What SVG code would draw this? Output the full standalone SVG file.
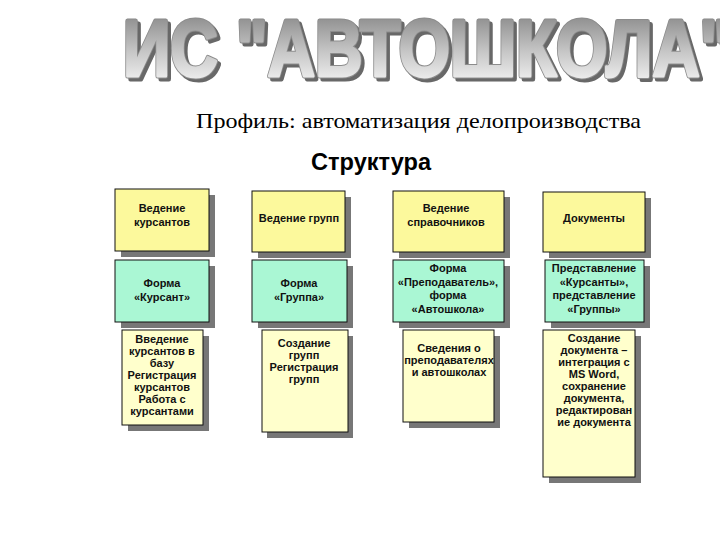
<svg xmlns="http://www.w3.org/2000/svg" width="720" height="540" viewBox="0 0 720 540">
<defs>
<linearGradient id="tg" x1="0" y1="0" x2="0" y2="1">
<stop offset="0" stop-color="#7c7c7c"/>
<stop offset="0.55" stop-color="#c8c8c8"/>
<stop offset="1" stop-color="#ffffff"/>
</linearGradient>
<style>
.sh{fill:#777777}
.y{fill:#FCF99C;stroke:#111;stroke-width:1}
.g{fill:#AAF7D4;stroke:#111;stroke-width:1}
.p{fill:#FFFFCC;stroke:#111;stroke-width:1}
.t{font-family:"Liberation Sans",Arial,sans-serif;font-weight:bold;font-size:11px;fill:#111;text-anchor:middle}
.title{font-family:"Liberation Sans",Arial,sans-serif;font-weight:bold;font-size:80px}
</style>
</defs>
<rect width="720" height="540" fill="#ffffff"/>
<g id="title">
<text class="title" x="126" y="79" fill="#686868" stroke="#686868" stroke-width="5" stroke-linejoin="round" textLength="608" lengthAdjust="spacingAndGlyphs">ИС "АВТОШКОЛА"</text>
<text class="title" x="123" y="76" fill="url(#tg)" stroke="#8c8c8c" stroke-width="5" stroke-linejoin="round" textLength="608" lengthAdjust="spacingAndGlyphs">ИС "АВТОШКОЛА"</text>
<text class="title" x="123" y="76" fill="url(#tg)" stroke="url(#tg)" stroke-width="3" stroke-linejoin="round" textLength="608" lengthAdjust="spacingAndGlyphs">ИС "АВТОШКОЛА"</text>
</g>
<text id="subtitle" x="196" y="128" font-family="'Liberation Serif','Times New Roman',serif" font-size="22" fill="#000" textLength="445" lengthAdjust="spacingAndGlyphs">Профиль: автоматизация делопроизводства</text>
<text id="heading" x="311" y="170" font-family="'Liberation Sans',Arial,sans-serif" font-weight="bold" font-size="23" fill="#000" textLength="120" lengthAdjust="spacingAndGlyphs">Структура</text>

<g id="n11"><rect class="sh" x="121" y="195" width="94" height="62"/><rect class="y" x="115" y="189" width="94" height="62"/>
<text class="t" x="162" y="212">Ведение</text><text class="t" x="162" y="226">курсантов</text></g>
<g id="n12"><rect class="sh" x="258" y="197" width="93" height="61"/><rect class="y" x="252" y="191" width="93" height="61"/>
<text class="t" x="299" y="222">Ведение групп</text></g>
<g id="n13"><rect class="sh" x="399" y="197" width="111" height="61"/><rect class="y" x="393" y="191" width="111" height="61"/>
<text class="t" x="446" y="212">Ведение</text><text class="t" x="446" y="226">справочников</text></g>
<g id="n14"><rect class="sh" x="549" y="198" width="102" height="60"/><rect class="y" x="543" y="192" width="102" height="60"/>
<text class="t" x="594" y="222">Документы</text></g>

<g id="n21"><rect class="sh" x="121" y="266" width="94" height="62"/><rect class="g" x="115" y="260" width="94" height="62"/>
<text class="t" x="162" y="287">Форма</text><text class="t" x="162" y="301">«Курсант»</text></g>
<g id="n22"><rect class="sh" x="258" y="266" width="95" height="62"/><rect class="g" x="252" y="260" width="95" height="62"/>
<text class="t" x="299" y="287">Форма</text><text class="t" x="299" y="301">«Группа»</text></g>
<g id="n23"><rect class="sh" x="399" y="266" width="111" height="62"/><rect class="g" x="393" y="260" width="111" height="62"/>
<text class="t" x="448" y="272">Форма</text><text class="t" x="448" y="285.5">«Преподаватель»,</text><text class="t" x="448" y="299">форма</text><text class="t" x="448" y="312.5">«Автошкола»</text></g>
<g id="n24"><rect class="sh" x="551" y="266" width="99" height="62"/><rect class="g" x="545" y="260" width="99" height="62"/>
<text class="t" x="594" y="272">Представление</text><text class="t" x="594" y="285.5">«Курсанты»,</text><text class="t" x="594" y="299">представление</text><text class="t" x="594" y="312.5">«Группы»</text></g>

<g id="n31"><rect class="sh" x="128" y="336" width="81" height="95"/><rect class="p" x="122" y="330" width="81" height="95"/>
<text class="t" x="162" y="343">Введение</text><text class="t" x="162" y="355">курсантов в</text><text class="t" x="162" y="367">базу</text><text class="t" x="162" y="379">Регистрация</text><text class="t" x="162" y="391">курсантов</text><text class="t" x="162" y="403">Работа с</text><text class="t" x="162" y="415">курсантами</text></g>
<g id="n32"><rect class="sh" x="267" y="336" width="86" height="102"/><rect class="p" x="262" y="330" width="86" height="102"/>
<text class="t" x="304" y="347">Создание</text><text class="t" x="304" y="359">групп</text><text class="t" x="304" y="371">Регистрация</text><text class="t" x="304" y="383">групп</text></g>
<g id="n33"><rect class="sh" x="409" y="336" width="91" height="92"/><rect class="p" x="403" y="330" width="91" height="92"/>
<text class="t" x="449" y="352">Сведения о</text><text class="t" x="449" y="364">преподавателях</text><text class="t" x="449" y="376">и автошколах</text></g>
<g id="n34"><rect class="sh" x="549" y="336" width="92" height="147"/><rect class="p" x="543" y="330" width="92" height="147"/>
<text class="t" x="594" y="342">Создание</text><text class="t" x="594" y="354">документа –</text><text class="t" x="594" y="366">интеграция с</text><text class="t" x="594" y="378">MS Word,</text><text class="t" x="594" y="390">сохранение</text><text class="t" x="594" y="402">документа,</text><text class="t" x="594" y="414">редактирован</text><text class="t" x="594" y="426">ие документа</text></g>
<g id="connectors"/>
</svg>
